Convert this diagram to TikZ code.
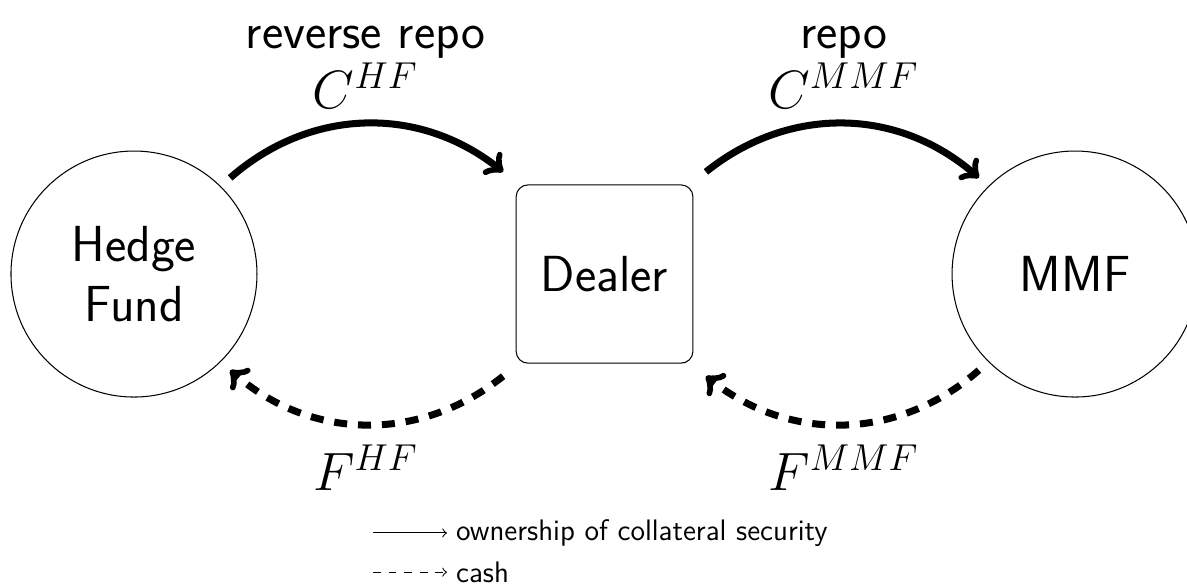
\documentclass[tikz,border=0pt]{standalone}
\usepackage{amsmath}
\usepackage{tikz}
\usetikzlibrary{positioning}
\renewcommand{\familydefault}{\sfdefault}

\begin{document}
\begin{tikzpicture}[
    node distance=6.36cm,
    party/.style={draw, circle, minimum size=3.325cm, inner sep=0pt,
        outer sep=5pt, align=center,
        font=\fontsize{19.5pt}{23pt}\selectfont},
    desk/.style={draw, rectangle, rounded corners=4.6pt,
        minimum width=2.39cm, minimum height=2.41cm, outer sep=5pt,
        font=\fontsize{19.5pt}{23pt}\selectfont},
    collat/.style={->, line width=2.7pt},
    cashflow/.style={collat, dash pattern=on 5pt off 4.2pt},
    flowlab/.style={align=center, inner sep=4.5pt,
        font=\fontsize{19.5pt}{23pt}\selectfont},
    keytext/.style={font=\fontsize{11.4pt}{13pt}\selectfont, anchor=west}]

    \useasboundingbox (-1.811,-4.217) rectangle (14.233,3.704);

    \node[party] (hf) at (0,0) {Hedge\\Fund};
    \node[desk, on grid, right=of hf] (dealer) {Dealer};
    \node[party, on grid, right=of dealer] (mmf) {MMF};

    % securities go over the top, cash comes back underneath
    \draw[collat] (hf.north east) to[bend left=40]
        node[flowlab, above] (revrepo) {reverse repo\\$C^{HF}$}
        (dealer.north west);
    \draw[collat] (dealer.north east) to[bend left=40]
        node[flowlab, above] (repo) {repo\\$C^{MMF}$}
        (mmf.north west);
    \draw[cashflow] (dealer.south west) to[bend left=40]
        node[flowlab, below=2pt] (fhf) {$F^{HF}$}
        (hf.south east);
    \draw[cashflow] (mmf.south west) to[bend left=40]
        node[flowlab, below=2pt] (fmmf) {$F^{MMF}$}
        (dealer.south east);

    % key
    \node[keytext] (own) at (4.23,-3.5) {ownership of collateral security};
    \node[keytext, below=0.53cm of own.west, anchor=west] (cash) {cash};
    \coordinate[left=1cm of own.west] (ownkey);
    \coordinate[left=1cm of cash.west] (cashkey);
    \draw[->] (ownkey) -- (own);
    \draw[->, dashed] (cashkey) -- (cash);

\end{tikzpicture}
\end{document}
